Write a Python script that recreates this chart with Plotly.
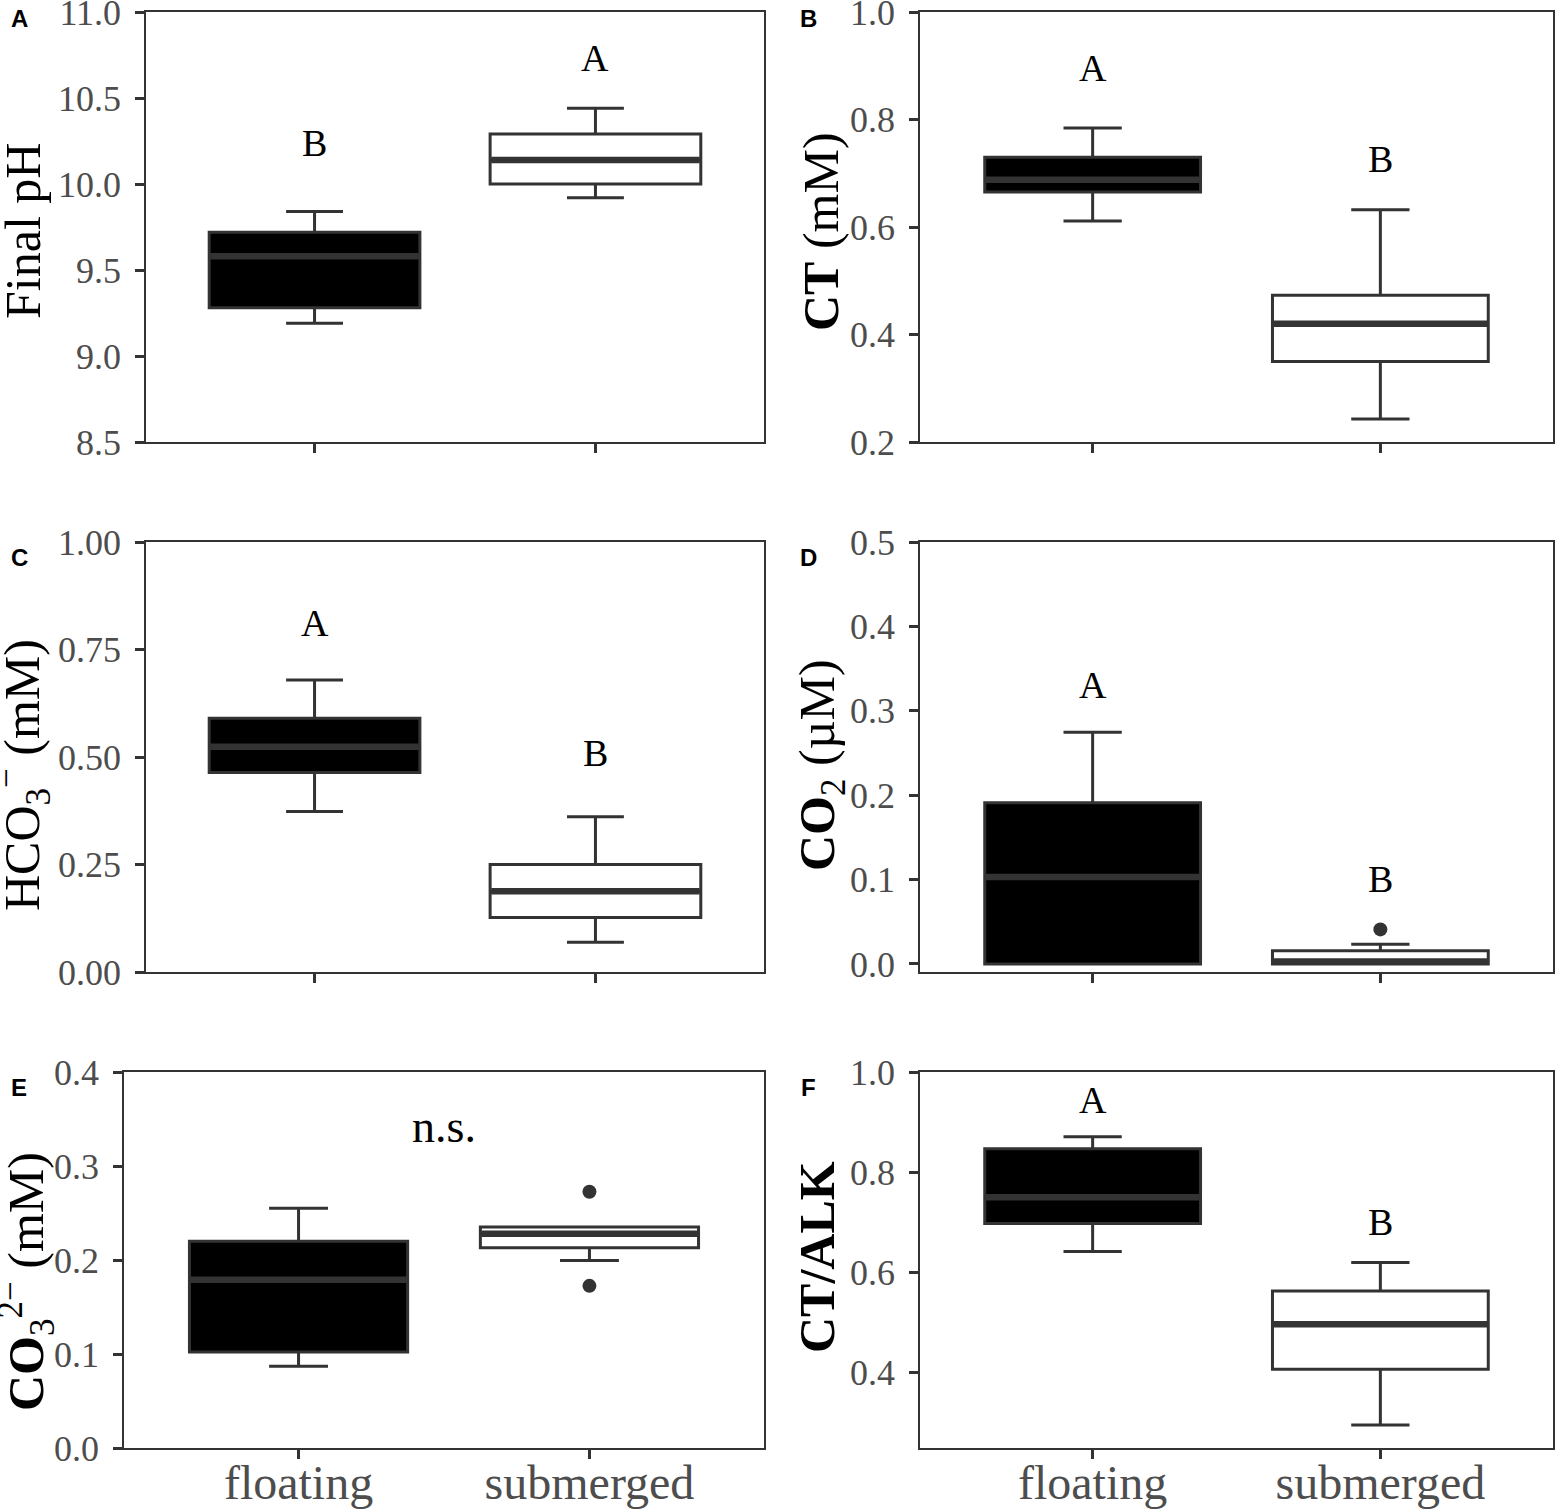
import plotly.graph_objects as go

W, H = 1555, 1510

categories = ["floating", "submerged"]

# Panel A: Final pH
ph_lo = [9.19, 9.92]
ph_q1 = [9.28, 10.00]
ph_med = [9.58, 10.14]
ph_q3 = [9.72, 10.29]
ph_hi = [9.84, 10.44]
ph_letters = ["B", "A"]

# Panel B: CT (mM)
ct_lo = [0.611, 0.243]
ct_q1 = [0.665, 0.350]
ct_med = [0.688, 0.420]
ct_q3 = [0.730, 0.473]
ct_hi = [0.784, 0.632]
ct_letters = ["A", "B"]

# Panel C: HCO3- (mM)
hco3_lo = [0.373, 0.069]
hco3_q1 = [0.464, 0.127]
hco3_med = [0.524, 0.188]
hco3_q3 = [0.590, 0.250]
hco3_hi = [0.679, 0.361]
hco3_letters = ["A", "B"]

# Panel D: CO2 (uM)
co2_lo = [0.0, 0.0]
co2_q1 = [0.0, 0.0]
co2_med = [0.103, 0.003]
co2_q3 = [0.191, 0.0157]
co2_hi = [0.2747, 0.0234]
co2_out_sub = [0.041]
co2_letters = ["A", "B"]

# Panel E: CO3 2- (mM)
co3_lo = [0.087, 0.1996]
co3_q1 = [0.102, 0.213]
co3_med = [0.179, 0.228]
co3_q3 = [0.220, 0.235]
co3_hi = [0.255, 0.235]
co3_out_sub = [0.2726, 0.1725]

# Panel F: CT/ALK
ctalk_lo = [0.642, 0.296]
ctalk_q1 = [0.698, 0.407]
ctalk_med = [0.750, 0.497]
ctalk_q3 = [0.847, 0.563]
ctalk_hi = [0.871, 0.620]
ctalk_letters = ["A", "B"]

# ---------------- layout helpers ----------------
SERIF = "Liberation Serif, Times New Roman, serif"
SANS = "Liberation Sans, Arial, sans-serif"
DARK = "#333333"
GRAY = "#4d4d4d"
BOXW = 0.75

def px_x(p):
    return p / W

def px_y(p):
    return 1 - p / H

panels = [
    dict(n="", x=(146, 764), y=(12, 442), rng=[8.5, 11.0], tv=[8.5, 9.0, 9.5, 10.0, 10.5, 11.0], fmt=".1f"),
    dict(n="2", x=(920, 1553), y=(12, 442), rng=[0.2, 1.0], tv=[0.2, 0.4, 0.6, 0.8, 1.0], fmt=".1f"),
    dict(n="3", x=(146, 764), y=(542, 972), rng=[0.0, 1.0], tv=[0.0, 0.25, 0.5, 0.75, 1.0], fmt=".2f"),
    dict(n="4", x=(920, 1553), y=(542, 972), rng=[-0.0095, 0.5], tv=[0.0, 0.1, 0.2, 0.3, 0.4, 0.5], fmt=".1f"),
    dict(n="5", x=(124, 764), y=(1072, 1448), rng=[0.0, 0.4], tv=[0.0, 0.1, 0.2, 0.3, 0.4], fmt=".1f"),
    dict(n="6", x=(920, 1553), y=(1072, 1448), rng=[0.25, 1.0], tv=[0.4, 0.6, 0.8, 1.0], fmt=".1f"),
]

data_sets = [
    (ph_lo, ph_q1, ph_med, ph_q3, ph_hi, None),
    (ct_lo, ct_q1, ct_med, ct_q3, ct_hi, None),
    (hco3_lo, hco3_q1, hco3_med, hco3_q3, hco3_hi, None),
    (co2_lo, co2_q1, co2_med, co2_q3, co2_hi, co2_out_sub),
    (co3_lo, co3_q1, co3_med, co3_q3, co3_hi, co3_out_sub),
    (ctalk_lo, ctalk_q1, ctalk_med, ctalk_q3, ctalk_hi, None),
]

fills = ["#000000", "#ffffff"]

fig = go.Figure()
layout = dict(
    template="none",
    width=W, height=H, margin=dict(l=0, r=0, t=0, b=0, pad=0),
    paper_bgcolor="white", plot_bgcolor="white", showlegend=False,
)

for i, (p, ds) in enumerate(zip(panels, data_sets)):
    n = p["n"]
    xa, ya = "x" + n, "y" + n
    lo, q1, med, q3, hi, outs = ds
    for j in range(2):
        fig.add_trace(go.Box(
            x=[j], q1=[q1[j]], median=[med[j]], q3=[q3[j]],
            lowerfence=[lo[j]], upperfence=[hi[j]],
            width=BOXW, whiskerwidth=0.27, boxpoints=False,
            fillcolor=fills[j], line=dict(color=DARK, width=3),
            xaxis=xa, yaxis=ya, hoverinfo="skip",
        ))
        # thicker median line (ggplot style)
        fig.add_trace(go.Scatter(
            x=[j - BOXW / 2 + 0.004, j + BOXW / 2 - 0.004], y=[med[j], med[j]],
            mode="lines", line=dict(color=DARK, width=6.5),
            xaxis=xa, yaxis=ya, hoverinfo="skip",
        ))
    if outs:
        fig.add_trace(go.Scatter(
            x=[1] * len(outs), y=outs, mode="markers",
            marker=dict(color=DARK, size=14),
            xaxis=xa, yaxis=ya, hoverinfo="skip",
        ))
    bottom = i >= 4
    xax = dict(
        domain=[px_x(p["x"][0]), px_x(p["x"][1])], anchor=ya,
        range=[-0.6, 1.6], tickvals=[0, 1],
        showticklabels=bottom, automargin=False,
        ticks="outside", ticklen=9, tickwidth=3, tickcolor=DARK,
        showline=True, linecolor=DARK, linewidth=1.5, mirror=True,
        showgrid=False, zeroline=False, fixedrange=True,
        tickfont=dict(family=SERIF, size=48, color=GRAY),
        ticklabeloverflow="allow",
    )
    if bottom:
        xax["ticktext"] = categories
        xax["ticklabelstandoff"] = -17
    layout["xaxis" + n] = xax
    layout["yaxis" + n] = dict(
        domain=[px_y(p["y"][1]), px_y(p["y"][0])], anchor=xa,
        range=p["rng"], tickvals=p["tv"], tickformat=p["fmt"],
        automargin=False,
        ticks="outside", ticklen=9, tickwidth=3, tickcolor=DARK,
        showline=True, linecolor=DARK, linewidth=1.5, mirror=True,
        showgrid=False, zeroline=False, fixedrange=True,
        tickfont=dict(family=SERIF, size=36, color=GRAY),
        ticklabelstandoff=7, ticklabeloverflow="allow",
    )

annotations = []

# significance letters
letter_sets = [
    ("", ph_letters, [10.24, 10.733]),
    ("2", ct_letters, [0.895, 0.726]),
    ("3", hco3_letters, [0.811, 0.51]),
    ("4", co2_letters, [0.330, 0.101]),
    ("6", ctalk_letters, [0.944, 0.701]),
]
for n, letters, ys in letter_sets:
    for j, (t, yv) in enumerate(zip(letters, ys)):
        annotations.append(dict(
            text=t, x=j, y=yv, xref="x" + n, yref="y" + n,
            showarrow=False, xanchor="center", yanchor="middle",
            font=dict(family=SERIF, size=38, color="black"),
        ))
annotations.append(dict(
    text="n.s.", x=0.5, y=0.3415, xref="x5", yref="y5",
    showarrow=False, xanchor="center", yanchor="middle",
    font=dict(family=SERIF, size=46, color="black"),
))

# y-axis titles
ytitles = [
    ("Final pH", 23, 231),
    ("<b>CT</b> (mM)", 821, 232),
    ("HCO<sub>3</sub><sup>\u2212</sup> (mM)", 23, 775),
    ("<b>CO</b><sub>2</sub> (\u00b5M)", 821, 765),
    ("<b>CO</b><sub>3</sub><sup>2\u2212</sup> (mM)", 26, 1282),
    ("<b>CT/ALK</b>", 817, 1257),
]
for t, xp, yp in ytitles:
    annotations.append(dict(
        text=t, x=px_x(xp), y=px_y(yp), xref="paper", yref="paper",
        showarrow=False, textangle=-90, xanchor="center", yanchor="middle",
        font=dict(family=SERIF, size=50, color="black"),
    ))

# panel labels
plabels = [("A", 19, 18), ("B", 809, 18), ("C", 19, 557), ("D", 809, 557), ("E", 19, 1087), ("F", 809, 1087)]
for t, xp, yp in plabels:
    annotations.append(dict(
        text="<b>" + t + "</b>", x=px_x(xp), y=px_y(yp), xref="paper", yref="paper",
        showarrow=False, xanchor="center", yanchor="middle",
        font=dict(family=SANS, size=24, color="black"),
    ))

layout["annotations"] = annotations
fig.update_layout(**layout)
fig.write_html(
    "out.html",
    config={"displayModeBar": False},
    post_script="document.body.style.margin='0px';document.body.style.overflow='hidden';",
)
